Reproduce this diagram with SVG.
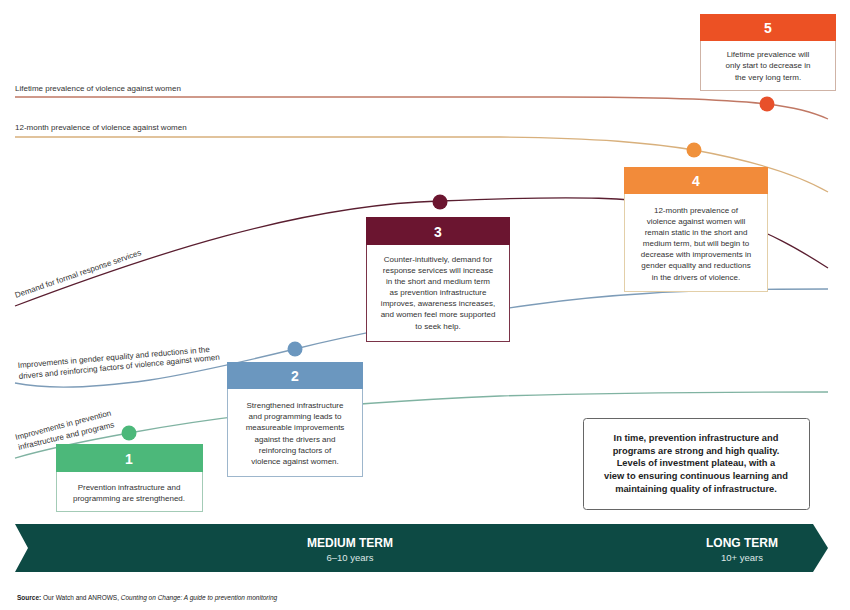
<svg xmlns="http://www.w3.org/2000/svg" width="850" height="610" viewBox="0 0 850 610">
<style>
text{font-family:"Liberation Sans",Arial,sans-serif;}
.lbl{font-size:8px;fill:#333;}
.body{font-size:8px;fill:#333;text-anchor:middle;}
.num{font-size:14px;font-weight:bold;fill:#fff;text-anchor:middle;}
.line{fill:none;stroke-width:1.3;}
.bold{font-size:9.3px;font-weight:bold;fill:#222;text-anchor:middle;}
</style>
<rect width="850" height="610" fill="#fff"/>
<g id="connectors">
<path class="line" stroke="#c07864" d="M15,97 L560,97 C650,97 730,100 767,104 C800,108 815,113 828,119"/>
<path class="line" stroke="#d8b07c" d="M15,137 L500,137 C600,138 650,143 694,150 C760,162 800,176 828,192"/>
<path class="line" stroke="#5a1e30" d="M15,306 C150,255 300,205 440,201 C560,196 650,194 720,215 C770,232 800,250 828,268"/>
<path class="line" stroke="#7d9cb8" d="M15,383 C40,388 80,390 150,380 C200,372 250,360 295,349 C380,328 460,315 530,305 C600,295 680,289 828,289"/>
<path class="line" stroke="#80b3a2" d="M15,458 C50,448 90,440 129,433 C230,414 350,402 500,396 C600,393 700,392 828,392"/>
</g>
<g id="labels">
<text class="lbl" x="15" y="91">Lifetime prevalence of violence against women</text>
<text class="lbl" x="15" y="130">12-month prevalence of violence against women</text>
<text class="lbl" transform="translate(16,298) rotate(-19)">Demand for formal response services</text>
<text class="lbl" transform="translate(18,368) rotate(-4.8)">Improvements in gender equality and reductions in the</text>
<text class="lbl" transform="translate(19,379) rotate(-5.5)">drivers and reinforcing factors of violence against women</text>
<text class="lbl" transform="translate(16,440) rotate(-14.5)">Improvements in prevention</text>
<text class="lbl" transform="translate(19,450) rotate(-13.5)">infrastructure and programs</text>
</g>
<g id="dot5"><circle cx="767" cy="104" r="7.5" fill="#e8502a"/></g>
<g id="dot4"><circle cx="694" cy="150" r="7.5" fill="#f0913b"/></g>
<g id="dot3"><circle cx="440" cy="202" r="7.5" fill="#6b1530"/></g>
<g id="dot2"><circle cx="295" cy="349" r="7.5" fill="#6b97bf"/></g>
<g id="dot1"><circle cx="129" cy="433" r="7.5" fill="#4cb87a"/></g>
<g id="box5">
<rect x="700.5" y="14.5" width="135" height="76" fill="#fff" stroke="#cfb3a6"/>
<rect x="700" y="14" width="136" height="27" fill="#ec5124"/>
<text class="num" x="768" y="33">5</text>
<text class="body" x="768" y="57">Lifetime prevalence will</text>
<text class="body" x="768" y="68">only start to decrease in</text>
<text class="body" x="768" y="80">the very long term.</text>
</g>
<g id="box4">
<rect x="624.5" y="167.5" width="143" height="124" fill="#fff" stroke="#e3cfa8"/>
<rect x="624" y="167" width="144" height="27" fill="#f28b3a"/>
<text class="num" x="696" y="186">4</text>
<text class="body" x="696" y="213">12-month prevalence of</text>
<text class="body" x="696" y="224">violence against women will</text>
<text class="body" x="696" y="235">remain static in the short and</text>
<text class="body" x="696" y="246">medium term, but will begin to</text>
<text class="body" x="696" y="257">decrease with improvements in</text>
<text class="body" x="696" y="268">gender equality and reductions</text>
<text class="body" x="696" y="280">in the drivers of violence.</text>
</g>
<g id="box3">
<rect x="366.5" y="217.5" width="143" height="124" fill="#fff" stroke="#7a3348"/>
<rect x="366" y="217" width="144" height="28" fill="#6b1530"/>
<text class="num" x="438" y="237">3</text>
<text class="body" x="438" y="262">Counter-intuitively, demand for</text>
<text class="body" x="438" y="273">response services will increase</text>
<text class="body" x="438" y="284">in the short and medium term</text>
<text class="body" x="438" y="295">as prevention infrastructure</text>
<text class="body" x="438" y="306">improves, awareness increases,</text>
<text class="body" x="438" y="317">and women feel more supported</text>
<text class="body" x="438" y="329">to seek help.</text>
</g>
<g id="box2">
<rect x="227.5" y="362.5" width="135" height="114" fill="#fff" stroke="#9db6cc"/>
<rect x="227" y="362" width="136" height="27" fill="#6b97bf"/>
<text class="num" x="295" y="381">2</text>
<text class="body" x="295" y="408">Strengthened infrastructure</text>
<text class="body" x="295" y="419">and programming leads to</text>
<text class="body" x="295" y="430">measureable improvements</text>
<text class="body" x="295" y="442">against the drivers and</text>
<text class="body" x="295" y="453">reinforcing factors of</text>
<text class="body" x="295" y="464">violence against women.</text>
</g>
<g id="box1">
<rect x="56.5" y="444.5" width="146" height="67" fill="#fff" stroke="#a3cbb6"/>
<rect x="56" y="444" width="147" height="28" fill="#4cb87a"/>
<text class="num" x="129" y="464">1</text>
<text class="body" x="129" y="490">Prevention infrastructure and</text>
<text class="body" x="129" y="501">programming are strengthened.</text>
</g>
<g id="box6">
<rect x="583.5" y="418.5" width="226" height="91" rx="3" fill="#fff" stroke="#666"/>
<text class="bold" x="696" y="441">In time, prevention infrastructure and</text>
<text class="bold" x="696" y="454">programs are strong and high quality.</text>
<text class="bold" x="696" y="466">Levels of investment plateau, with a</text>
<text class="bold" x="696" y="479">view to ensuring continuous learning and</text>
<text class="bold" x="696" y="492">maintaining quality of infrastructure.</text>
</g>
<g id="timeline">
<path d="M15,524 L813,524 L828,548 L813,572 L15,572 L28,548 Z" fill="#0d4a44"/>
<text x="350" y="547" font-size="12" font-weight="bold" fill="#fff" text-anchor="middle">MEDIUM TERM</text>
<text x="350" y="561" font-size="9.5" fill="#dfe8e6" text-anchor="middle">6–10 years</text>
<text x="742" y="547" font-size="12" font-weight="bold" fill="#fff" text-anchor="middle">LONG TERM</text>
<text x="742" y="561" font-size="9.5" fill="#dfe8e6" text-anchor="middle">10+ years</text>
</g>
<text x="17" y="600" font-size="6.5" fill="#222"><tspan font-weight="bold">Source:</tspan> Our Watch and ANROWS, <tspan font-style="italic">Counting on Change: A guide to prevention monitoring</tspan></text>
</svg>
